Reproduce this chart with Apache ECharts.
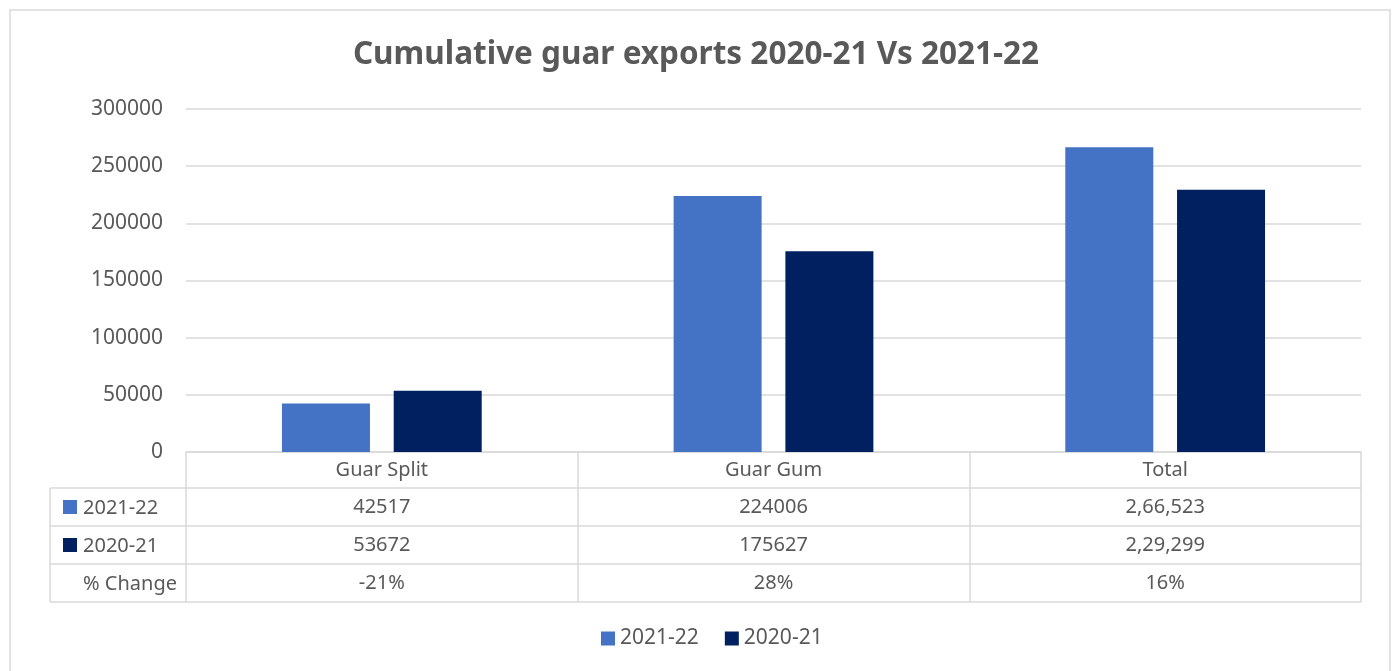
<!DOCTYPE html>
<html>
<head>
<meta charset="utf-8">
<script src="https://cdn.jsdelivr.net/npm/echarts@6/dist/echarts.min.js"></script>
<style>html,body{margin:0;padding:0;background:#fff}#c{width:1392px;height:671px}</style>
</head>
<body>
<div id="c"></div>
<script>
var categories = ['Guar Split', 'Guar Gum', 'Total'];
var seriesNames = ['2021-22', '2020-21'];
var values2122 = [42517, 224006, 266523];
var values2021 = [53672, 175627, 229299];
var tableRow2122 = ['42517', '224006', '2,66,523'];
var tableRow2021 = ['53672', '175627', '2,29,299'];
var changeLabel = '% Change';
var tableRowChange = ['-21%', '28%', '16%'];
var colors = ['#4472C4', '#002060'];

var FONT = '"Noto Sans", "Open Sans", sans-serif';
var TXT = '#595959';
var LINE = '#d9d9d9';
var FS = 20;

function rowAxis(offset, labels, show) {
  return {
    type: 'category', data: categories, position: 'bottom', offset: offset,
    axisLine: { show: true, lineStyle: { color: LINE, width: 1.5 } },
    axisTick: { show: false },
    axisLabel: {
      show: show, margin: 9, color: TXT, fontFamily: FONT, fontSize: FS,
      formatter: function (v, i) { return labels ? labels[i] : v; }
    },
    splitLine: { show: false }
  };
}

var chart = echarts.init(document.getElementById('c'));
var x0 = rowAxis(0, null, true);
x0.axisTick = { show: true, alignWithLabel: false, length: 150, inside: false, lineStyle: { color: LINE, width: 1.5 } };
x0.axisLabel.margin = 8;

var hdrLeft = 50, hdrRight = 186;
var rowLines = [488, 526, 564, 602];
var graphics = [
  { type: 'rect', shape: { x: 10, y: 10, width: 1380, height: 700 }, style: { fill: 'none', stroke: LINE, lineWidth: 1.5 }, silent: true }
];
rowLines.forEach(function (y) {
  graphics.push({ type: 'line', shape: { x1: hdrLeft, y1: y, x2: hdrRight, y2: y }, style: { stroke: LINE, lineWidth: 1.5 } });
});
graphics.push({ type: 'line', shape: { x1: hdrLeft, y1: 488, x2: hdrLeft, y2: 602 }, style: { stroke: LINE, lineWidth: 1.5 } });
var hdrTexts = [seriesNames[0], seriesNames[1], changeLabel];
hdrTexts.forEach(function (t, i) {
  var cy = (rowLines[i] + rowLines[i + 1]) / 2;
  if (i < 2) {
    graphics.push({ type: 'rect', shape: { x: 63, y: cy - 7, width: 14, height: 14 }, style: { fill: colors[i] } });
  }
  graphics.push({ type: 'text', x: 83, y: cy + 1, style: { text: t, fill: TXT, font: FS + 'px ' + FONT, textVerticalAlign: 'middle', textAlign: 'left' } });
});

chart.setOption({
  backgroundColor: '#fff',
  animation: false,
  title: {
    text: 'Cumulative guar exports 2020-21 Vs 2021-22',
    left: 'center', top: 34,
    textStyle: { color: TXT, fontFamily: FONT, fontSize: 31.5, fontWeight: 'bold' }
  },
  legend: {
    data: seriesNames, bottom: 17, left: 596,
    icon: 'rect', itemWidth: 14, itemHeight: 14, itemGap: 26,
    textStyle: { color: TXT, fontFamily: FONT, fontSize: 21 }
  },
  grid: { left: 186, right: 31, top: 109, bottom: 219, containLabel: false },
  xAxis: [
    x0,
    rowAxis(36, tableRow2122, true),
    rowAxis(74, tableRow2021, true),
    rowAxis(112, tableRowChange, true),
    rowAxis(150, null, false)
  ],
  yAxis: {
    type: 'value', min: 0, max: 300000, interval: 50000,
    axisLine: { show: false }, axisTick: { show: false },
    axisLabel: { color: TXT, fontFamily: FONT, fontSize: 21, margin: 23, formatter: function (v) { return String(v); } },
    splitLine: { lineStyle: { color: LINE, width: 1.5 } }
  },
  series: [
    { name: seriesNames[0], type: 'bar', data: values2122, barWidth: 88, barGap: '27%', itemStyle: { color: colors[0] } },
    { name: seriesNames[1], type: 'bar', data: values2021, barWidth: 88, barGap: '27%', itemStyle: { color: colors[1] } }
  ],
  graphic: graphics
});
</script>
</body>
</html>
